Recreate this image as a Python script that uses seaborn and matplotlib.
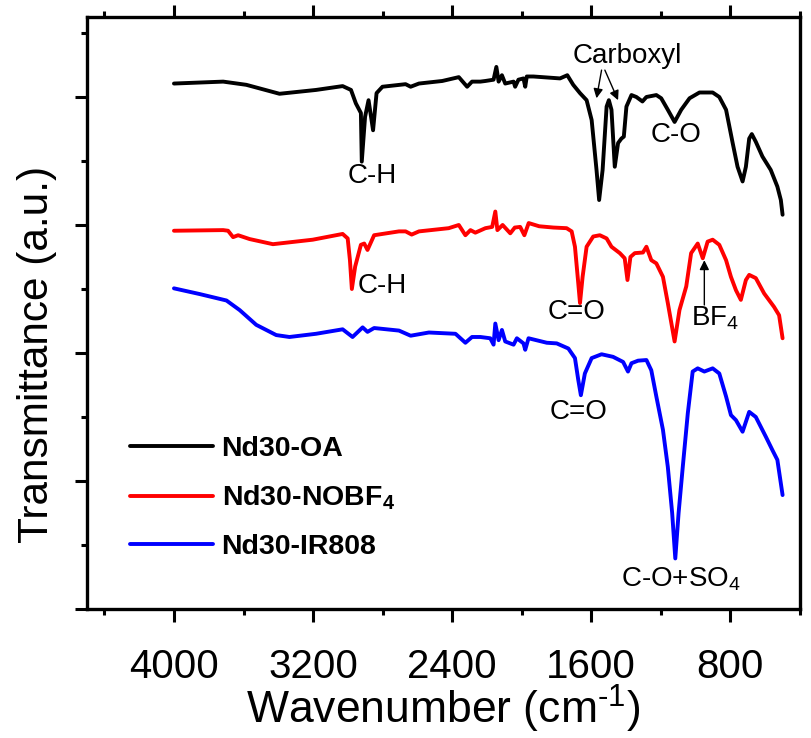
import numpy as np
import pandas as pd
import matplotlib
matplotlib.use("Agg")
import matplotlib.pyplot as plt
from matplotlib.ticker import MultipleLocator, NullFormatter
import seaborn as sns

# FTIR spectra (wavenumber in cm^-1, offset transmittance in a.u.)
wn_oa = [4000, 3717, 3584, 3393, 3183, 3030, 2982, 2954, 2925, 2920, 2901, 2881, 2855, 2835,
         2801, 2668, 2639, 2591, 2457, 2362, 2314, 2286, 2238, 2209, 2162, 2146, 2133, 2114,
         2095, 2047, 2038, 2019, 1990, 1980, 1971, 1933, 1780, 1738, 1704, 1665, 1627, 1598,
         1570, 1555, 1535, 1512, 1499, 1484, 1465, 1446, 1427, 1413, 1398, 1369, 1341, 1306,
         1283, 1226, 1198, 1160, 1121, 1083, 1035, 978, 902, 864, 825, 787, 759, 730, 711,
         692, 677, 654, 616, 568, 530, 510, 500]
t_oa = [8.21, 8.24, 8.19, 8.05, 8.11, 8.17, 8.11, 7.90, 7.75, 6.99, 7.69, 7.95, 7.48, 8.06,
        8.16, 8.20, 8.16, 8.21, 8.25, 8.31, 8.16, 8.24, 8.24, 8.25, 8.27, 8.47, 8.24, 8.34,
        8.21, 8.24, 8.16, 8.27, 8.29, 8.16, 8.32, 8.32, 8.29, 8.34, 8.19, 8.06, 7.95, 7.64,
        6.86, 6.39, 6.86, 7.85, 7.95, 7.80, 6.91, 7.28, 7.35, 7.38, 7.85, 8.03, 8.00, 7.93,
        8.00, 8.03, 7.98, 7.80, 7.61, 7.80, 7.98, 8.07, 8.07, 8.00, 7.80, 7.28, 6.91, 6.68, 6.91,
        7.35, 7.42, 7.30, 7.07, 6.86, 6.60, 6.39, 6.16]

wn_nobf4 = [4000, 3717, 3689, 3660, 3631, 3565, 3431, 3202, 3030, 3001, 2988, 2977, 2958, 2925,
            2906, 2887, 2849, 2706, 2668, 2633, 2591, 2420, 2362, 2324, 2295, 2267, 2209, 2170,
            2152, 2140, 2110, 2066, 2040, 2009, 1985, 1960, 1900, 1818, 1742, 1713, 1694, 1675,
            1665, 1650, 1627, 1589, 1551, 1512, 1484, 1436, 1408, 1392, 1375, 1350, 1303, 1283,
            1255, 1226, 1188, 1160, 1121, 1093, 1054, 1026, 988, 959, 931, 902, 864, 825, 797,
            768, 740, 711, 692, 654, 606, 549, 520, 500]
t_nobf4 = [5.91, 5.92, 5.91, 5.81, 5.84, 5.78, 5.70, 5.77, 5.86, 5.79, 5.45, 5.00, 5.35, 5.69,
           5.71, 5.61, 5.84, 5.90, 5.90, 5.85, 5.90, 5.95, 6.00, 5.84, 5.92, 5.88, 5.95, 5.97,
           6.21, 5.92, 6.00, 5.87, 5.96, 5.97, 5.84, 6.03, 5.98, 5.96, 5.95, 5.90, 5.66, 5.09,
           4.78, 5.19, 5.66, 5.82, 5.84, 5.79, 5.66, 5.56, 5.48, 5.14, 5.50, 5.56, 5.57, 5.66,
           5.45, 5.40, 5.19, 4.78, 4.18, 4.67, 5.04, 5.56, 5.71, 5.48, 5.74, 5.77, 5.69, 5.45, 5.19,
           4.98, 4.83, 5.14, 5.22, 5.17, 4.93, 4.72, 4.59, 4.23]

wn_ir808 = [4000, 3851, 3698, 3622, 3527, 3412, 3336, 3183, 3030, 2973, 2915, 2887, 2849, 2706,
            2639, 2534, 2381, 2324, 2286, 2238, 2181, 2162, 2152, 2133, 2114, 2095, 2047, 2028,
            1990, 1980, 1961, 1856, 1799, 1732, 1694, 1675, 1660, 1637, 1598, 1541, 1475, 1417,
            1389, 1369, 1331, 1283, 1255, 1226, 1188, 1160, 1135, 1117, 1098, 1074, 1045, 1017,
            988, 950, 902, 864, 825, 797, 768, 730, 692, 654, 596, 558, 530, 500]
t_ir808 = [5.01, 4.92, 4.82, 4.67, 4.44, 4.28, 4.25, 4.30, 4.37, 4.25, 4.40, 4.33, 4.39, 4.35,
           4.27, 4.32, 4.30, 4.16, 4.25, 4.25, 4.23, 4.13, 4.46, 4.20, 4.36, 4.18, 4.13, 4.23,
           4.15, 4.05, 4.23, 4.16, 4.15, 4.07, 3.92, 3.58, 3.34, 3.68, 3.92, 3.98, 3.94, 3.86,
           3.71, 3.84, 3.88, 3.89, 3.73, 3.32, 2.80, 2.22, 1.50, 0.79, 1.50, 2.22, 3.06, 3.71,
           3.76, 3.71, 3.76, 3.68, 3.32, 3.03, 2.95, 2.77, 3.08, 3.00, 2.69, 2.48, 2.33, 1.78]

samples = ["Nd30-OA", "Nd30-NOBF$_\\mathbf{4}$", "Nd30-IR808"]
colors = ["black", "red", "blue"]

df = pd.concat([
    pd.DataFrame({"wavenumber": wn_oa, "T": t_oa, "sample": samples[0]}),
    pd.DataFrame({"wavenumber": wn_nobf4, "T": t_nobf4, "sample": samples[1]}),
    pd.DataFrame({"wavenumber": wn_ir808, "T": t_ir808, "sample": samples[2]}),
], ignore_index=True)

sns.set_style("ticks")
plt.rcParams["font.family"] = ["Liberation Sans", "DejaVu Sans"]
plt.rcParams["mathtext.fontset"] = "custom"
plt.rcParams["mathtext.rm"] = "Liberation Sans"
plt.rcParams["mathtext.it"] = "Liberation Sans:italic"
plt.rcParams["mathtext.bf"] = "Liberation Sans:bold"
for key in ["text.color", "axes.labelcolor", "xtick.color", "ytick.color",
            "axes.edgecolor", "xtick.labelcolor", "ytick.labelcolor"]:
    plt.rcParams[key] = "black"

fig = plt.figure(figsize=(8.11, 7.38), dpi=100)
ax = fig.add_axes([0.1073, 0.1748, 0.8791, 0.8022])

sns.lineplot(data=df, x="wavenumber", y="T", hue="sample", palette=colors,
             hue_order=samples, linewidth=2.8, ax=ax, legend=False, sort=False,
             estimator=None)

ax.set_xlim(4500, 400)
ax.set_ylim(0, 9.25)
ax.xaxis.set_major_locator(MultipleLocator(800))
ax.xaxis.set_minor_locator(MultipleLocator(400))
ax.yaxis.set_major_locator(MultipleLocator(2))
ax.yaxis.set_minor_locator(MultipleLocator(1))
ax.yaxis.set_major_formatter(NullFormatter())

for s in ax.spines.values():
    s.set_linewidth(2.4)
    s.set_color("black")
ax.tick_params(which="both", direction="out", top=True, right=False, width=2.2,
               color="black")
ax.tick_params(which="major", length=9, labelsize=29, pad=19)
ax.tick_params(which="minor", length=4.5)

ax.set_xlabel("Wavenumber (cm$^{\\text{-}1}$)", fontsize=32, labelpad=-2)
ax.set_ylabel("Transmittance (a.u.)", fontsize=30.5)
ax.yaxis.set_label_coords(-0.042, 0.43)

# peak assignments
fs = 20
ax.text(2857, 6.77, "C-H", fontsize=fs, ha="center", va="center")
ax.text(1393, 8.64, "Carboxyl", fontsize=fs, ha="center", va="center")
arrow = dict(arrowstyle="-|>", color="black", lw=1.0, mutation_scale=14,
             shrinkA=0, shrinkB=0)
ax.annotate("", xy=(1570, 7.98), xytext=(1541, 8.42), arrowprops=arrow)
ax.annotate("", xy=(1446, 7.95), xytext=(1522, 8.42), arrowprops=arrow)
ax.text(1110, 7.41, "C-O", fontsize=fs, ha="center", va="center")
ax.text(2805, 5.05, "C-H", fontsize=fs, ha="center", va="center")
ax.text(1684, 4.64, "C=O", fontsize=fs, ha="center", va="center")
ax.text(1026, 4.55, "BF$_4$", fontsize=fs, ha="left", va="center")
ax.annotate("", xy=(950, 5.45), xytext=(950, 4.75), arrowprops=arrow)
ax.text(1675, 3.08, "C=O", fontsize=fs, ha="center", va="center")
ax.text(1427, 0.47, "C-O+SO$_4$", fontsize=fs, ha="left", va="center")

handles = [plt.Line2D([], [], color=c, lw=2.8) for c in colors]
leg = ax.legend(handles, samples, loc="upper left", bbox_to_anchor=(0.025, 0.335),
                frameon=False, handlelength=2.9, handletextpad=0.3,
                labelspacing=0.75, prop={"weight": "bold", "size": 20.5})

fig.savefig("out.png", dpi=100)
